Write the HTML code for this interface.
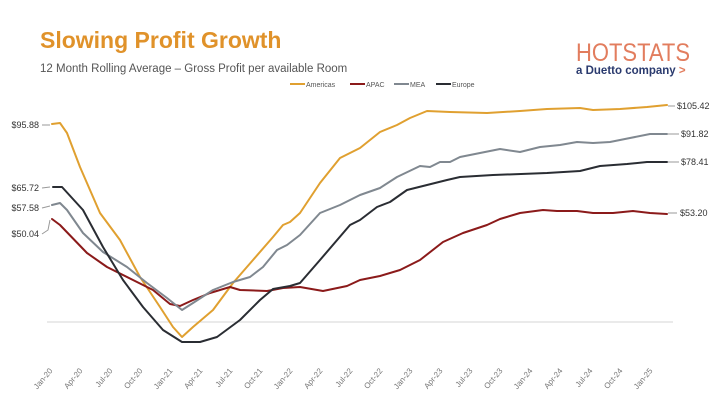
<!DOCTYPE html>
<html><head><meta charset="utf-8"><style>
body{margin:0;background:#fff;width:720px;height:405px;overflow:hidden;font-family:"Liberation Sans",sans-serif}
</style></head><body>
<svg width="720" height="405" xmlns="http://www.w3.org/2000/svg" font-family="Liberation Sans, sans-serif">
<text x="40" y="48" font-size="23" font-weight="bold" fill="#e0922a">Slowing Profit Growth</text>
<text x="40" y="72" font-size="11.5" fill="#555">12 Month Rolling Average – Gross Profit per available Room</text>
<text x="576" y="61" font-size="25" fill="#e27d5e" textLength="114" lengthAdjust="spacingAndGlyphs">HOTSTATS</text>
<text x="576" y="74" font-size="11.5" font-weight="bold" fill="#2a3a6e">a Duetto company <tspan fill="#e27d5e">&gt;</tspan></text>
<g font-size="7" fill="#555">
<line x1="290" y1="84" x2="305" y2="84" stroke="#e0a030" stroke-width="2"/><text x="306" y="87">Americas</text>
<line x1="350" y1="84" x2="365" y2="84" stroke="#8b1a1a" stroke-width="2"/><text x="366" y="87">APAC</text>
<line x1="394" y1="84" x2="409" y2="84" stroke="#808890" stroke-width="2"/><text x="410" y="87">MEA</text>
<line x1="436" y1="84" x2="451" y2="84" stroke="#2a2d33" stroke-width="2"/><text x="452" y="87">Europe</text>
</g>
<line x1="47" y1="322" x2="673" y2="322" stroke="#d6d6d6" stroke-width="1"/>
<g fill="none" stroke-width="2" stroke-linejoin="round" stroke-linecap="round">
<polyline stroke="#e0a030" points="52,124 60,123 67,133 80,167 100,213 120,240 140,277 160,307 173,327 182,337 193,327 213,310 233,283 253,260 273,237 283,225 290,222 300,213 320,183 340,158 360,148 380,132 397,125 410,118 427,111 450,112 487,113 520,111 547,109 580,108 593,110 620,109 647,107 667,105"/>
<polyline stroke="#8b1a1a" points="52,219 60,225 87,253 107,267 133,280 153,290 170,304 180,306 193,300 210,293 230,287 240,290 267,291 283,288 300,287 323,291 347,286 360,280 380,276 400,270 420,260 443,242 463,233 487,225 500,219 520,213 543,210 557,211 577,211 593,213 613,213 633,211 650,213 667,214"/>
<polyline stroke="#808890" points="52,205 60,203 67,210 83,233 103,252 127,267 147,283 167,298 182,310 193,303 213,290 233,282 250,277 263,267 277,250 287,245 300,235 320,213 340,205 360,195 380,188 397,177 420,166 430,167 440,162 450,162 460,157 480,153 500,149 520,152 540,147 560,145 577,142 593,143 610,142 630,138 650,134 667,134"/>
<polyline stroke="#2a2d33" points="53,187 62,187 83,210 103,247 123,280 143,307 163,330 182,342 200,342 217,337 240,320 260,300 273,289 290,286 300,283 320,260 350,225 360,220 377,207 390,202 407,190 427,185 447,180 460,177 493,175 547,173 580,171 600,166 627,164 647,162 667,162"/>
</g>
<g stroke="#999" stroke-width="1" fill="none">
<polyline points="42,125 50,125"/><polyline points="42,188 50,187"/><polyline points="42,208 50,206"/><polyline points="42,234 48,230 50,220"/>
<line x1="668" y1="106" x2="675" y2="106"/><line x1="668" y1="134" x2="679" y2="134"/><line x1="668" y1="162" x2="679" y2="162"/><line x1="668" y1="213" x2="677" y2="213"/>
</g>
<g font-size="9" fill="#333">
<text x="39" y="128" text-anchor="end">$95.88</text>
<text x="39" y="191" text-anchor="end">$65.72</text>
<text x="39" y="211" text-anchor="end">$57.58</text>
<text x="39" y="237" text-anchor="end">$50.04</text>
<text x="677" y="109">$105.42</text>
<text x="681" y="137">$91.82</text>
<text x="681" y="165">$78.41</text>
<text x="680" y="216">$53.20</text>
</g>
<g font-size="8" fill="#777" text-anchor="end">
<text transform="translate(53,371) rotate(-50)">Jan-20</text>
<text transform="translate(83,371) rotate(-50)">Apr-20</text>
<text transform="translate(113,371) rotate(-50)">Jul-20</text>
<text transform="translate(143,371) rotate(-50)">Oct-20</text>
<text transform="translate(173,371) rotate(-50)">Jan-21</text>
<text transform="translate(203,371) rotate(-50)">Apr-21</text>
<text transform="translate(233,371) rotate(-50)">Jul-21</text>
<text transform="translate(263,371) rotate(-50)">Oct-21</text>
<text transform="translate(293,371) rotate(-50)">Jan-22</text>
<text transform="translate(323,371) rotate(-50)">Apr-22</text>
<text transform="translate(353,371) rotate(-50)">Jul-22</text>
<text transform="translate(383,371) rotate(-50)">Oct-22</text>
<text transform="translate(413,371) rotate(-50)">Jan-23</text>
<text transform="translate(443,371) rotate(-50)">Apr-23</text>
<text transform="translate(473,371) rotate(-50)">Jul-23</text>
<text transform="translate(503,371) rotate(-50)">Oct-23</text>
<text transform="translate(533,371) rotate(-50)">Jan-24</text>
<text transform="translate(563,371) rotate(-50)">Apr-24</text>
<text transform="translate(593,371) rotate(-50)">Jul-24</text>
<text transform="translate(623,371) rotate(-50)">Oct-24</text>
<text transform="translate(653,371) rotate(-50)">Jan-25</text>
</g>
</svg>
</body></html>
